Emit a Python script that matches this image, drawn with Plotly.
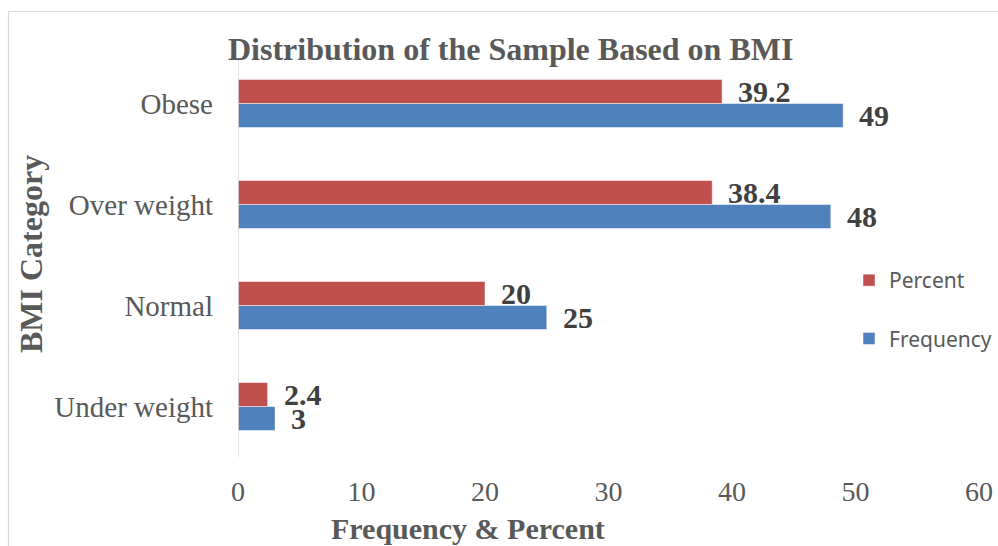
import plotly.graph_objects as go

# BMI categories, listed bottom to top on the category axis
categories = ["Under weight", "Normal", "Over weight", "Obese"]
frequency = [3, 25, 48, 49]
percent = [2.4, 20, 38.4, 39.2]
x_ticks = [0, 10, 20, 30, 40, 50, 60]

BLUE = "#4F81BD"
RED = "#C0504D"
SERIF = "Liberation Serif, Times New Roman, serif"
GRID_GRAY = "#D9D9D9"
TEXT_GRAY = "#595959"
LABEL_DARK = "#404040"

BARGAP = 0.525
half = (1 - BARGAP) / 4  # centre offset of each bar within its group

L, R, T, B = 238, 979, 53, 457
W, H = 998, 546


def px_x(px):
    return (px - L) / (R - L)


def px_y(py):
    return (B - py) / (B - T)


fig = go.Figure()
fig.add_trace(go.Bar(
    y=categories, x=frequency, name="Frequency", orientation="h",
    marker=dict(color=BLUE, line=dict(color="rgba(255,255,255,0.6)", width=0.8)),
    legendgroup="f", legendrank=2,
))
fig.add_trace(go.Bar(
    y=categories, x=percent, name="Percent", orientation="h",
    marker=dict(color=RED, line=dict(color="rgba(255,255,255,0.6)", width=0.8)),
    legendgroup="p", legendrank=1,
))

# value labels just past the end of each bar
annotations = []
for i, (f, p) in enumerate(zip(frequency, percent)):
    for val, dy in ((p, half), (f, -half)):
        annotations.append(dict(
            x=val, y=i + dy, xref="x", yref="y", text=f"{val:g}",
            showarrow=False, xanchor="left", yanchor="middle", xshift=14,
            font=dict(family=SERIF, size=30, color=LABEL_DARK, weight="bold"),
        ))

# chart title and axis titles
annotations += [
    dict(text="<b>Distribution of the Sample Based on BMI</b>",
         x=px_x(510), y=px_y(49), textangle=0,
         font=dict(family=SERIF, size=32, color=TEXT_GRAY)),
    dict(text="<b>Frequency &amp; Percent</b>",
         x=px_x(468), y=px_y(528), textangle=0,
         font=dict(family=SERIF, size=30, color=TEXT_GRAY)),
    dict(text="<b>BMI Category</b>",
         x=px_x(31), y=px_y(254), textangle=-90,
         font=dict(family=SERIF, size=32, color=TEXT_GRAY)),
]
for a in annotations[-3:]:
    a.update(xref="paper", yref="paper", showarrow=False,
             xanchor="center", yanchor="middle")

fig.update_layout(
    width=W, height=H,
    margin=dict(l=L, r=W - R, t=T, b=H - B, autoexpand=False),
    paper_bgcolor="white", plot_bgcolor="white",
    barmode="group", bargap=BARGAP, bargroupgap=0,
    showlegend=True,
    legend=dict(
        traceorder="grouped", tracegroupgap=28,
        x=px_x(849), y=px_y(260), xanchor="left", yanchor="top",
        font=dict(family="Noto Sans, Open Sans, sans-serif", size=21, color=TEXT_GRAY),
        bgcolor="rgba(0,0,0,0)", itemwidth=30,
    ),
    xaxis=dict(
        range=[0, 60], tickvals=x_ticks, showgrid=False, zeroline=False,
        showline=False, ticks="", ticklabelstandoff=15, automargin=False,
        tickfont=dict(family=SERIF, size=28, color=TEXT_GRAY),
    ),
    yaxis=dict(
        type="category", categoryorder="array", categoryarray=categories,
        range=[-0.5, 3.5], showgrid=False, zeroline=False,
        showline=False, ticks="", ticklabelstandoff=24, automargin=False,
        tickfont=dict(family=SERIF, size=29, color=TEXT_GRAY),
    ),
    annotations=annotations,
    shapes=[
        # vertical axis line at x = 0
        dict(type="line", xref="x", yref="paper", x0=0, x1=0,
             y0=0, y1=px_y(60), line=dict(color=GRID_GRAY, width=1.5)),
        # outer chart frame
        dict(type="rect", xref="paper", yref="paper",
             x0=px_x(8.5), x1=px_x(1010), y0=px_y(560), y1=px_y(11.5),
             line=dict(color=GRID_GRAY, width=1.2), layer="below"),
    ],
)

fig.write_html("out.html")
